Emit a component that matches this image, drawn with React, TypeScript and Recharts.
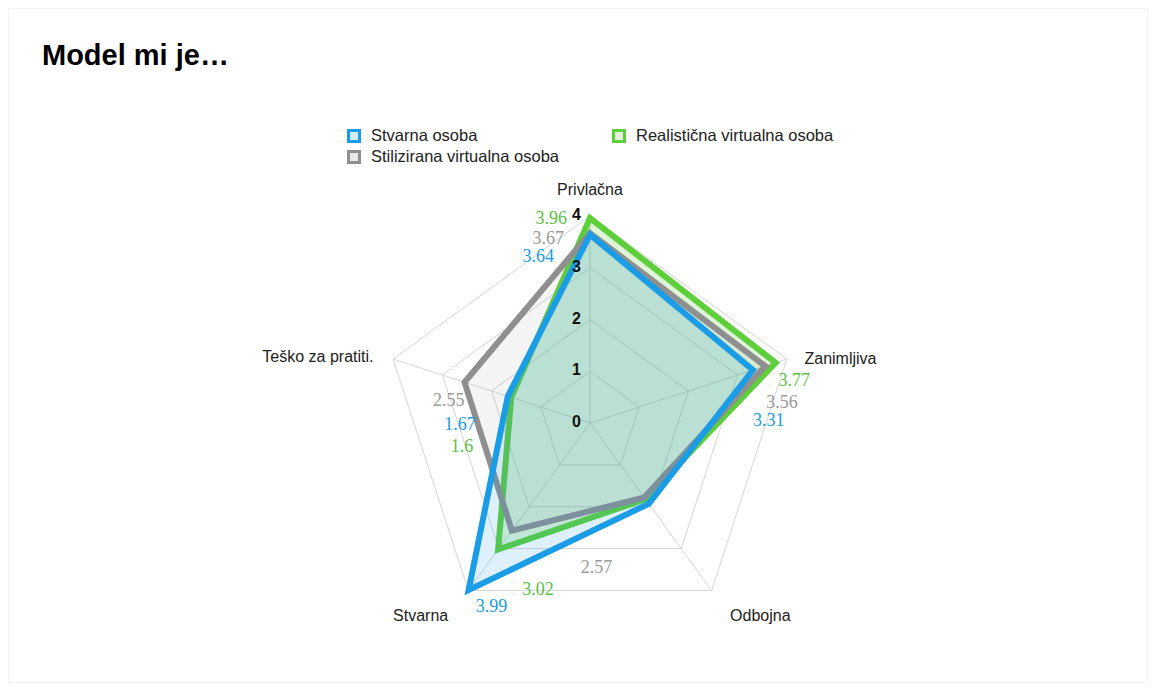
import React from 'react';
import {
  RadarChart,
  Radar,
  PolarGrid,
  PolarAngleAxis,
  PolarRadiusAxis,
} from 'recharts';

const axes = ['Privlačna', 'Zanimljiva', 'Odbojna', 'Stvarna', 'Teško za pratiti.'];
const stvarnaOsoba = [3.64, 3.31, 1.93, 3.99, 1.67];
const stiliziranaOsoba = [3.67, 3.56, 1.78, 2.57, 2.55];
const realisticnaOsoba = [3.96, 3.77, 1.82, 3.02, 1.6];
// which values carry a printed label (Odbojna has none in the source)
const labelled = [true, true, false, true, true];
const radiusTicks = [0, 1, 2, 3, 4];

const data = axes.map((axis, i) => ({
  axis,
  stvarna: stvarnaOsoba[i],
  stilizirana: stiliziranaOsoba[i],
  realisticna: realisticnaOsoba[i],
}));

const BLUE = '#1b9ce6';
const GRAY = '#8f8f8f';
const GREEN = '#5ccf3a';

// label offsets from the data point, per axis: [dx, dy, anchor]
type Off = [number, number, 'start' | 'end'];
const blueOffsets: Off[] = [[-36, 27, 'end'], [0, 56, 'start'], [0, 0, 'start'], [7, 22, 'start'], [-32, 34, 'end']];
const grayOffsets: Off[] = [[-26, 11, 'end'], [1, 42, 'start'], [0, 0, 'start'], [69, 42, 'start'], [0, 24, 'end']];
const greenOffsets: Off[] = [[-23, 6, 'end'], [3, 23, 'start'], [0, 0, 'start'], [24, 46, 'start'], [-38, 55, 'end']];

// axis-label nudges from recharts' default tick spot
const tickOffsets: [number, number, 'start' | 'middle' | 'end'][] = [
  [0, -17, 'middle'],
  [10, 3, 'start'],
  [44, 20, 'middle'],
  [-43, 20, 'middle'],
  [-12, 1, 'end'],
];

const makeLabel = (color: string, offsets: Off[]) => (props: any) => {
  const { x, y, value, index } = props;
  if (!labelled[index]) return null;
  const [dx, dy, anchor] = offsets[index];
  return (
    <text
      x={x + dx}
      y={y + dy}
      textAnchor={anchor}
      fill={color}
      fontFamily="'Liberation Serif', 'Times New Roman', serif"
      fontSize={18}
    >
      {value}
    </text>
  );
};

const AngleTick = (props: any) => {
  const { x, y, payload, index } = props;
  const [dx, dy, anchor] = tickOffsets[index];
  return (
    <text
      x={x + dx}
      y={y + dy}
      textAnchor={anchor}
      dominantBaseline="middle"
      fill="#222"
      fontSize={16}
      fontFamily="Helvetica, Arial, 'Liberation Sans', sans-serif"
    >
      {payload.value}
    </text>
  );
};

const RadiusTick = (props: any) => {
  const { x, y, payload } = props;
  return (
    <text
      x={x - 9}
      y={y}
      textAnchor="end"
      dominantBaseline="middle"
      fill="#111"
      fontSize={16}
      fontWeight={600}
      fontFamily="Helvetica, Arial, 'Liberation Sans', sans-serif"
    >
      {payload.value}
    </text>
  );
};

const legendItems = [
  { name: 'Stvarna osoba', color: BLUE, fill: '#d5ecfb', left: 338, top: 117 },
  { name: 'Realistična virtualna osoba', color: GREEN, fill: '#e3f6dc', left: 603, top: 117 },
  { name: 'Stilizirana virtualna osoba', color: GRAY, fill: '#e8e8e8', left: 338, top: 138 },
];

export default function App() {
  return (
    <div
      style={{
        position: 'relative',
        width: 1140,
        height: 675,
        border: '1px solid #f2f2f2',
        boxSizing: 'border-box',
        background: '#fff',
        fontFamily: 'Helvetica, Arial, "Liberation Sans", sans-serif',
      }}
    >
      <div
        style={{
          position: 'absolute',
          left: 33,
          top: 30,
          fontSize: 29,
          fontWeight: 700,
          color: '#000',
        }}
      >
        Model mi je…
      </div>
      {legendItems.map((it) => (
        <div
          key={it.name}
          style={{
            position: 'absolute',
            left: it.left,
            top: it.top,
            display: 'flex',
            alignItems: 'center',
            fontSize: 16.5,
            color: '#222',
          }}
        >
          <span
            style={{
              display: 'inline-block',
              width: 8,
              height: 8,
              border: `3px solid ${it.color}`,
              background: it.fill,
              marginRight: 10,
            }}
          />
          {it.name}
        </div>
      ))}
      <div style={{ position: 'absolute', left: 0, top: 0 }}>
        <RadarChart
          width={1140}
          height={675}
          data={data}
          cx={581}
          cy={414}
          outerRadius={207}
          startAngle={90}
          endAngle={-270}
          margin={{ top: 0, right: 0, bottom: 0, left: 0 }}
        >
          <PolarGrid gridType="polygon" stroke="#d6d6d6" strokeWidth={1} />
          <PolarAngleAxis dataKey="axis" tick={<AngleTick />} tickLine={false} axisLine={false} />
          <Radar
            name="Realistična virtualna osoba"
            dataKey="realisticna"
            stroke={GREEN}
            strokeWidth={6}
            strokeLinejoin="miter"
            fill={GREEN}
            fillOpacity={0.2}
            isAnimationActive={false}
            label={makeLabel('#5cbf45', greenOffsets)}
          />
          <Radar
            name="Stilizirana virtualna osoba"
            dataKey="stilizirana"
            stroke={GRAY}
            strokeWidth={6}
            strokeLinejoin="miter"
            fill={GRAY}
            fillOpacity={0.1}
            isAnimationActive={false}
            label={makeLabel('#9a9a9a', grayOffsets)}
          />
          <Radar
            name="Stvarna osoba"
            dataKey="stvarna"
            stroke={BLUE}
            strokeWidth={6}
            strokeLinejoin="miter"
            fill={BLUE}
            fillOpacity={0.15}
            isAnimationActive={false}
            label={makeLabel('#1b9ce6', blueOffsets)}
          />
          <PolarRadiusAxis
            angle={90}
            domain={[0, 4]}
            ticks={radiusTicks}
            tickCount={5}
            tick={<RadiusTick />}
            axisLine={false}
            tickLine={false}
          />
        </RadarChart>
      </div>
    </div>
  );
}
